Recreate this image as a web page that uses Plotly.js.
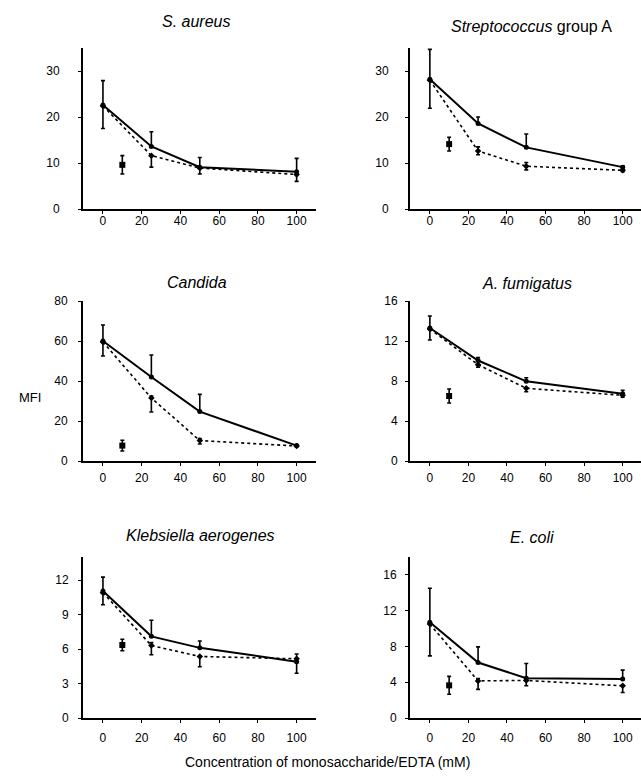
<!DOCTYPE html>
<html>
<head>
<meta charset="utf-8">
<script src="https://cdn.plot.ly/plotly-3.0.1.min.js"></script>
<style>html,body{margin:0;padding:0;background:#fff;}#chart{width:641px;height:781px;}</style>
</head>
<body>
<div id="chart"></div>
<script>
// ---- data ----
const concX = [0, 25, 50, 100];
const edtaX = [10];
const panelTitles = ["<i>S. aureus</i>", "<i>Streptococcus</i> group A", "<i>Candida</i>", "<i>A. fumigatus</i>", "<i>Klebsiella aerogenes</i>", "<i>E. coli</i>"];
const xTicks = [0, 20, 40, 60, 80, 100];
const yTicks = [[0,10,20,30],[0,10,20,30],[0,20,40,60,80],[0,4,8,12,16],[0,3,6,9,12],[0,4,8,12,16]];
const yMax = [35, 35, 80, 16, 14, 18];

// solid line series
const solidVals = [[22.6,13.6,9.1,8.1],[28.2,18.6,13.4,9.1],[60,42,24.7,7.7],[13.3,10.05,7.97,6.73],[11.05,7.1,6.1,4.9],[10.7,6.2,4.45,4.35]];
const solidErrUp = [[5.3,3.2,2.1,2.9],[6.5,1.4,2.9,0.3],[8,11,8.6,0],[1.2,0.3,0.35,0.35],[1.2,1.4,0.6,0.67],[3.8,1.75,1.65,1.0]];
const solidErrDown = [[5.1,0,0,0],[6.3,0,0,0],[7.5,0,0,0],[1.2,0,0,0],[1.2,0,0,0],[3.75,0,0,0]];
// dotted line series
const dotVals = [[22.4,11.6,8.9,7.5],[28.0,12.6,9.3,8.4],[59.5,31.5,10.2,7.5],[13.2,9.63,7.27,6.57],[10.9,6.3,5.35,5.15],[10.5,4.15,4.2,3.6]];
const dotErrUp = [[0,0,0,0],[0,0.9,0.8,0],[0,1,1,0],[0,0,0,0],[0,0.25,0,0],[0,0.25,0,0]];
const dotErrDown = [[0,2.5,1.3,1.5],[0,0.8,0.8,0.3],[0,7,1.7,0],[0,0.25,0.35,0.2],[0,0.8,0.9,1.26],[0,0.95,0.6,0.75]];
// EDTA single point
const edtaVals = [9.6, 14.1, 7.7, 6.5, 6.35, 3.65];
const edtaErr = [2.0, 1.5, 2.7, 0.7, 0.5, 1.0];

// ---- layout geometry ----
const W = 641, H = 781;
const colDom = [[83/W, 316/W], [410/W, 1]];
const colRange = [[-10.3, 110], [-10.3, 109.5]];
const rowPx = [[48, 209], [301, 461], [557, 718]];
const titlePos = [[196,22],[531,27],[197,282],[527,283],[200,535],[532,537]];
const yStandoff = [16, 14, 8, 5, 7, 6];
const xStandoff = [-3, -3, 2, 2, 5, 5];

const traces = [];
const layout = {
  width: W, height: H,
  margin: {l:0, r:0, t:0, b:0},
  paper_bgcolor: '#fff', plot_bgcolor: '#fff',
  showlegend: false,
  font: {family: 'Liberation Sans, Arial, sans-serif', color: '#000', size: 12},
  annotations: []
};

for (let i = 0; i < 6; i++) {
  const r = Math.floor(i / 2), c = i % 2;
  const n = i + 1;
  const xa = n === 1 ? 'x' : 'x' + n;
  const ya = n === 1 ? 'y' : 'y' + n;
  const err = (up, down) => ({type:'data', symmetric:false, array:up, arrayminus:down, color:'#000', thickness:1.6, width:2});
  traces.push({x: concX, y: dotVals[i], xaxis: xa, yaxis: ya, mode: 'lines+markers',
    line: {color:'#000', width:1.6, dash:'dot'}, marker: {symbol:'diamond', size:5, color:'#000'},
    error_y: err(dotErrUp[i], dotErrDown[i])});
  traces.push({x: concX, y: solidVals[i], xaxis: xa, yaxis: ya, mode: 'lines+markers',
    line: {color:'#000', width:2}, marker: {symbol:'circle', size:5, color:'#000'},
    error_y: err(solidErrUp[i], solidErrDown[i])});
  traces.push({x: edtaX, y: [edtaVals[i]], xaxis: xa, yaxis: ya, mode: 'markers',
    marker: {symbol:'square', size:6, color:'#000'},
    error_y: {type:'data', array:[edtaErr[i]], color:'#000', thickness:1.6, width:2}});

  const yDom = [1 - rowPx[r][1]/H, 1 - rowPx[r][0]/H];
  layout['xaxis' + (n === 1 ? '' : n)] = {
    domain: colDom[c], range: colRange[c], anchor: ya,
    tickvals: xTicks, ticks: 'outside', ticklen: 3, tickwidth: 1, tickcolor: '#000',
    showline: true, linecolor: '#000', linewidth: 1.5, showgrid: false, zeroline: false,
    tickfont: {size: 12}, ticklabelstandoff: xStandoff[i], fixedrange: true
  };
  layout['yaxis' + (n === 1 ? '' : n)] = {
    domain: yDom, range: [0, yMax[i]], anchor: xa,
    tickvals: yTicks[i], ticks: 'outside', ticklen: 3, tickwidth: 1, tickcolor: '#000',
    showline: true, linecolor: '#000', linewidth: 2, showgrid: false, zeroline: false,
    tickfont: {size: 12}, ticklabelstandoff: yStandoff[i], fixedrange: true
  };
  layout.annotations.push({text: panelTitles[i], xref:'paper', yref:'paper',
    x: titlePos[i][0]/W, y: 1 - titlePos[i][1]/H, xanchor:'center', yanchor:'middle',
    showarrow:false, font:{size:16}});
}
layout.annotations.push({text:'MFI', xref:'paper', yref:'paper', x:30/W, y:1-397/H,
  xanchor:'center', yanchor:'middle', showarrow:false, font:{size:13}});
layout.annotations.push({text:'Concentration of monosaccharide/EDTA (mM)', xref:'paper', yref:'paper',
  x:327/W, y:1-762/H, xanchor:'center', yanchor:'middle', showarrow:false, font:{size:14}});

Plotly.newPlot('chart', traces, layout, {staticPlot:true, displayModeBar:false});
</script>
</body>
</html>
